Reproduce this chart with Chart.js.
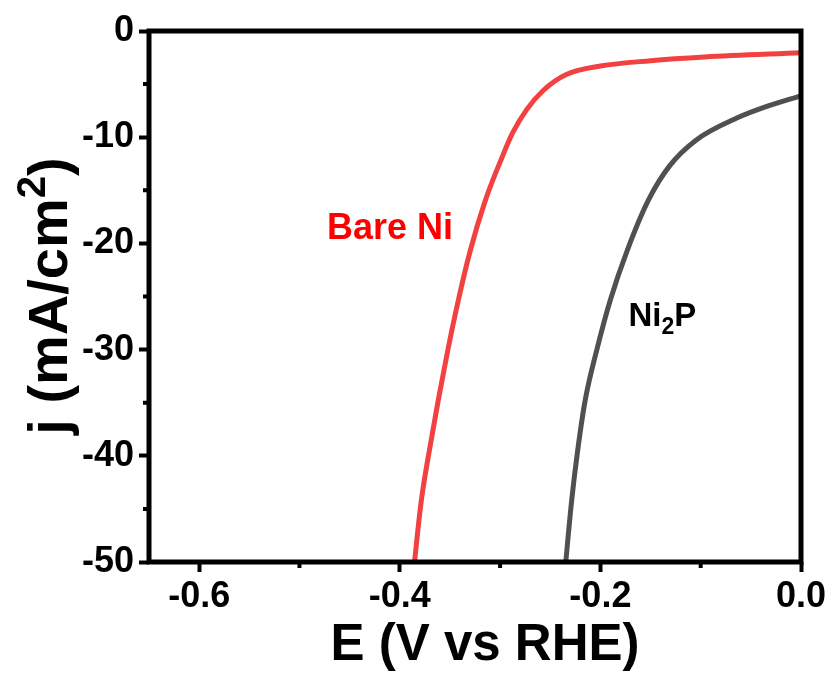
<!DOCTYPE html>
<html>
<head>
<meta charset="utf-8">
<script src="https://cdn.jsdelivr.net/npm/chart.js@4.4.0/dist/chart.umd.min.js"></script>
<style>
  html, body { margin: 0; padding: 0; background: #fff; }
  #lsv { display: block; }
</style>
</head>
<body>
<canvas id="lsv" width="832" height="679"></canvas>
<script>
// LSV polarisation curves: potential (V vs RHE) against current density (mA/cm2)
var bareNiE = [-0.386, -0.3785, -0.3705, -0.3615, -0.352, -0.3415, -0.3295, -0.3145, -0.2985, -0.2875, -0.2735, -0.257, -0.234, -0.200, -0.150, -0.096, 0.0];
var bareNiJ = [-50.6, -44.2, -39.5, -34.7, -30.0, -25.3, -20.6, -15.9, -12.0, -9.6, -7.4, -5.6, -4.1, -3.3, -2.8, -2.45, -2.05];

var ni2pE = [-0.235, -0.2285, -0.2225, -0.215, -0.2035, -0.190, -0.173, -0.152, -0.131, -0.105, -0.064, -0.031, 0.0];
var ni2pJ = [-50.5, -44.1, -39.4, -34.7, -30.0, -25.3, -20.6, -15.9, -12.7, -10.3, -8.2, -7.0, -6.1];

var xTicks = [-0.6, -0.4, -0.2, 0.0];
var xMinor = [-0.5, -0.3, -0.1];
var yTicks = [0, -10, -20, -30, -40, -50];
var yMinor = [-5, -15, -25, -35, -45];

var FONT = "'Liberation Sans', Arial, sans-serif";

function toPoints(xs, ys) {
  return xs.map(function(x, i) { return { x: x, y: ys[i] }; });
}

// draws a run of text pieces, each with its own size and vertical shift
function richText(ctx, pieces, x, y, color) {
  ctx.fillStyle = color;
  ctx.textBaseline = 'alphabetic';
  ctx.textAlign = 'left';
  pieces.forEach(function(p) {
    ctx.font = 'bold ' + p.size + 'px ' + FONT;
    ctx.fillText(p.text, x, y + (p.dy || 0));
    x += ctx.measureText(p.text).width;
  });
}

function richWidth(ctx, pieces) {
  var w = 0;
  pieces.forEach(function(p) {
    ctx.font = 'bold ' + p.size + 'px ' + FONT;
    w += ctx.measureText(p.text).width;
  });
  return w;
}

var frame = {
  id: 'frame',
  afterDatasetsDraw: function(chart) {
    var ctx = chart.ctx, a = chart.chartArea;
    var xs = chart.scales.x, ys = chart.scales.y;
    ctx.save();
    ctx.strokeStyle = '#000';
    ctx.lineWidth = 5;
    ctx.strokeRect(a.left, a.top, a.right - a.left, a.bottom - a.top);

    // short minor ticks
    ctx.lineWidth = 4;
    ctx.beginPath();
    xMinor.forEach(function(v) {
      var px = xs.getPixelForValue(v);
      ctx.moveTo(px, a.bottom);
      ctx.lineTo(px, a.bottom + 6);
    });
    yMinor.forEach(function(v) {
      var py = ys.getPixelForValue(v);
      ctx.moveTo(a.left, py);
      ctx.lineTo(a.left - 6, py);
    });
    ctx.stroke();

    // curve labels
    ctx.font = 'bold 36px ' + FONT;
    ctx.fillStyle = '#ff0000';
    ctx.textAlign = 'left';
    ctx.fillText('Bare Ni', xs.getPixelForValue(-0.4725), ys.getPixelForValue(-19.6));
    richText(ctx, [
      { text: 'Ni', size: 33 },
      { text: '2', size: 23, dy: 8 },
      { text: 'P', size: 33 }
    ], xs.getPixelForValue(-0.172), ys.getPixelForValue(-27.8), '#000');

    // axis titles
    ctx.font = 'bold 51px ' + FONT;
    ctx.fillStyle = '#000';
    ctx.textAlign = 'center';
    ctx.fillText('E (V vs RHE)', 485, 660);

    var yTitle = [
      { text: 'j (mA/cm', size: 56 },
      { text: '2', size: 40, dy: -22 },
      { text: ')', size: 56 }
    ];
    var w = richWidth(ctx, yTitle);
    ctx.translate(67, 296);
    ctx.rotate(-Math.PI / 2);
    richText(ctx, yTitle, -w / 2, 0, '#000');
    ctx.restore();
  }
};

var ctx = document.getElementById('lsv').getContext('2d');
var chart = new Chart(ctx, {
  type: 'line',
  data: {
    datasets: [
      {
        label: 'Bare Ni',
        data: toPoints(bareNiE, bareNiJ),
        borderColor: '#f24141',
        borderWidth: 5,
        pointRadius: 0,
        cubicInterpolationMode: 'monotone',
        fill: false,
        clip: 0
      },
      {
        label: 'Ni2P',
        data: toPoints(ni2pE, ni2pJ),
        borderColor: '#505050',
        borderWidth: 5,
        pointRadius: 0,
        cubicInterpolationMode: 'monotone',
        fill: false,
        clip: 0
      }
    ]
  },
  options: {
    responsive: false,
    animation: false,
    devicePixelRatio: 1,
    layout: { padding: { left: 0, right: 31, top: 31, bottom: 0 } },
    plugins: {
      legend: { display: false },
      tooltip: { enabled: false }
    },
    scales: {
      x: {
        type: 'linear',
        min: -0.65,
        max: 0,
        afterBuildTicks: function(s) {
          s.ticks = xTicks.map(function(v) { return { value: v }; });
        },
        afterFit: function(s) { s.height = 117; },
        border: { display: false },
        grid: {
          drawOnChartArea: false,
          drawTicks: true,
          tickLength: 10,
          tickWidth: 4,
          tickColor: '#000'
        },
        ticks: {
          color: '#000',
          padding: 3,
          maxRotation: 0,
          font: { family: FONT, size: 36, weight: 'bold' },
          callback: function(v) { return Number(v).toFixed(1); }
        }
      },
      y: {
        type: 'linear',
        min: -50,
        max: 0,
        afterBuildTicks: function(s) {
          s.ticks = yTicks.map(function(v) { return { value: v }; });
        },
        afterFit: function(s) { s.width = 149; },
        border: { display: false },
        grid: {
          drawOnChartArea: false,
          drawTicks: true,
          tickLength: 10,
          tickWidth: 4,
          tickColor: '#000'
        },
        ticks: {
          color: '#000',
          padding: 5,
          font: { family: FONT, size: 36, weight: 'bold' },
          callback: function(v) { return String(v); }
        }
      }
    }
  },
  plugins: [frame]
});
</script>
</body>
</html>
